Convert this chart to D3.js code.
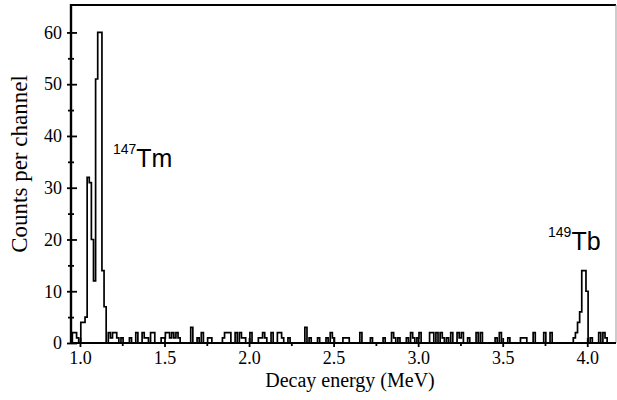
<!DOCTYPE html>
<html>
<head>
<meta charset="utf-8">
<script src="https://cdn.jsdelivr.net/npm/d3@7"></script>
<style>
  body { margin: 0; background: #fff; }
  svg { display: block; }
  .tick line { stroke: #000; stroke-width: 1.8; }
</style>
</head>
<body>
<svg id="chart" width="617" height="400"></svg>
<script>
// channel layout of the spectrum (MeV)
var channelStart = 0.955;
var channelWidth = 0.0125;
// counts per channel, 16 channels per row
var counts = [
  2,2,1,0,4,4,5,32,31,20,12,51,60,60,14,7,
  0,2,1,2,2,1,0,1,0,0,0,1,0,0,2,0,
  0,2,1,1,0,2,2,0,0,0,1,1,2,2,1,2,
  1,2,1,0,0,0,0,0,3,0,0,1,0,2,0,0,
  1,1,0,0,0,0,0,1,2,2,2,0,0,2,0,2,
  1,1,0,0,2,0,0,0,1,1,2,1,0,0,2,0,
  0,2,2,1,0,0,1,0,0,0,0,0,0,0,3,0,
  1,0,0,0,1,0,0,0,1,0,2,1,0,0,0,0,
  1,1,1,0,0,0,0,0,2,0,0,0,0,1,0,0,
  0,0,0,1,0,0,0,2,1,0,1,0,0,0,1,0,
  2,1,0,1,2,0,0,0,0,2,2,0,2,0,2,1,
  0,1,0,2,0,0,2,1,2,0,0,1,0,0,0,2,
  0,2,0,0,0,0,0,0,1,0,2,0,0,0,1,0,
  0,0,0,0,1,1,1,0,0,0,2,0,0,0,0,2,
  0,0,2,0,0,0,0,0,0,0,0,0,0,1,2,4,
  6,14,14,10,0,1,0,0,0,2,0,2,1,0,0,0
];
var xTicks = [1.0, 1.5, 2.0, 2.5, 3.0, 3.5, 4.0];
var xMinorTicks = [1.25, 1.75, 2.25, 2.75, 3.25, 3.75];
var yTicks = [0, 10, 20, 30, 40, 50, 60];
var yMinorTicks = [5, 15, 25, 35, 45, 55];
var peakLabels = [
  {mass: "147", element: "Tm", energy: 1.195, count: 34},
  {mass: "149", element: "Tb", energy: 3.768, count: 17.9}
];

var svg = d3.select("svg#chart");
var plotLeft = 71, plotRight = 616, plotTop = 5, plotBottom = 343;

var x = d3.scaleLinear().domain([0.947, 4.17]).range([plotLeft, plotRight]);
var y = d3.scaleLinear().domain([0, 65.3]).range([plotBottom, plotTop]);

// step outline of the histogram
var pts = counts.map(function(c, i) { return [channelStart + i * channelWidth, c]; });
pts.unshift([channelStart, 0]);
pts.push([channelStart + counts.length * channelWidth, 0]);

svg.append("path")
  .datum(pts)
  .attr("fill", "none")
  .attr("stroke", "#000")
  .attr("stroke-width", 1.7)
  .attr("d", d3.line()
    .x(function(d) { return x(d[0]); })
    .y(function(d) { return y(d[1]); })
    .curve(d3.curveStepAfter));

// frame
svg.append("line").attr("x1", plotLeft).attr("x2", plotRight).attr("y1", plotTop).attr("y2", plotTop)
  .attr("stroke", "#000").attr("stroke-width", 2);
svg.append("line").attr("x1", plotRight).attr("x2", plotRight).attr("y1", plotTop).attr("y2", plotBottom)
  .attr("stroke", "#999").attr("stroke-width", 1);
svg.append("line").attr("x1", plotLeft).attr("x2", plotRight).attr("y1", plotBottom).attr("y2", plotBottom)
  .attr("stroke", "#000").attr("stroke-width", 2);
svg.append("line").attr("x1", plotLeft).attr("x2", plotLeft).attr("y1", plotTop - 1).attr("y2", plotBottom)
  .attr("stroke", "#000").attr("stroke-width", 2.4);

// y axis: major ticks cross the axis line
var gy = svg.append("g").attr("transform", "translate(" + plotLeft + ",0)");
gy.call(d3.axisLeft(y).tickValues(yTicks).tickSize(4).tickPadding(5).tickFormat(d3.format("d")));
gy.append("g").call(d3.axisRight(y).tickValues(yTicks).tickSize(6).tickFormat(""));
gy.append("g").call(d3.axisLeft(y).tickValues(yMinorTicks).tickSize(3).tickFormat(""));
gy.append("g").call(d3.axisRight(y).tickValues(yMinorTicks).tickSize(3).tickFormat(""));
gy.selectAll(".domain").remove();

// x axis
var gx = svg.append("g").attr("transform", "translate(0," + plotBottom + ")");
gx.call(d3.axisBottom(x).tickValues(xTicks).tickSize(4).tickPadding(4).tickFormat(d3.format(".1f")));
gx.append("g").call(d3.axisTop(x).tickValues(xTicks).tickSize(5).tickFormat(""));
gx.append("g").call(d3.axisBottom(x).tickValues(xMinorTicks).tickSize(3).tickFormat(""));
gx.selectAll(".domain").remove();

gy.attr("font-size", 18).attr("font-family", "'Liberation Serif', 'Times New Roman', serif");
gx.attr("font-size", 18).attr("font-family", "'Liberation Serif', 'Times New Roman', serif");
svg.selectAll(".tick text").attr("fill", "#000");

// axis titles
svg.append("text")
  .attr("transform", "translate(27,164) rotate(-90)")
  .attr("text-anchor", "middle")
  .style("font-family", "'Liberation Serif', 'Times New Roman', serif")
  .style("font-size", "23px")
  .text("Counts per channel");

svg.append("text")
  .attr("x", 350).attr("y", 387)
  .attr("text-anchor", "middle")
  .style("font-family", "'Liberation Serif', 'Times New Roman', serif")
  .style("font-size", "20px")
  .text("Decay energy (MeV)");

// isotope labels
var lab = svg.selectAll(".iso").data(peakLabels).enter().append("text")
  .attr("class", "iso")
  .style("font-family", "'Liberation Sans', Arial, sans-serif");
lab.append("tspan")
  .attr("x", function(d) { return x(d.energy); })
  .attr("y", function(d) { return y(d.count) - 13; })
  .style("font-size", "14px")
  .text(function(d) { return d.mass; });
lab.append("tspan")
  .attr("dy", 13)
  .style("font-size", "25px")
  .text(function(d) { return d.element; });
</script>
</body>
</html>
